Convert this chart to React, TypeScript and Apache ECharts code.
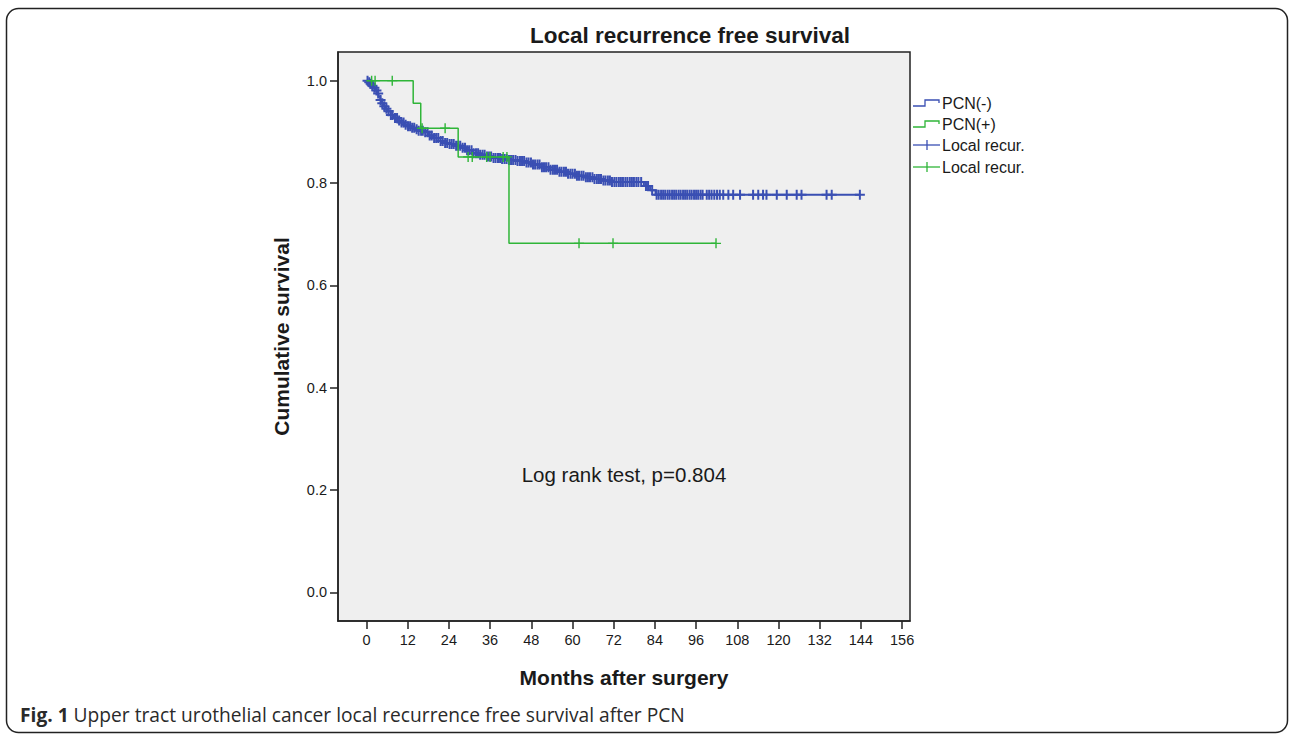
import React, { useEffect, useRef } from "react";
import * as echarts from "echarts";

const FONT = "'Liberation Sans', Arial, sans-serif";
const BLUE = "#3a4fb3";
const GREEN = "#2fb538";
const INK = "#1a1a1a";

const titleText = "Local recurrence free survival";
const xName = "Months after surgery";
const yName = "Cumulative survival";
const noteText = "Log rank test, p=0.804";
const legendNames = ["PCN(-)", "PCN(+)", "Local recur.", "Local recur."];

const xTicks = [0, 12, 24, 36, 48, 60, 72, 84, 96, 108, 120, 132, 144, 156];
const yTicks = [0, 0.2, 0.4, 0.6, 0.8, 1.0];

// PCN(-) : event times (months) and survival after each step
const blueTimes = [
  0, 0.5, 1, 1.5, 2, 2.5, 3, 3.5, 4, 4.5, 5, 5.5, 6, 7, 8, 9, 10, 11, 12, 13,
  14, 15, 16.5, 18, 19.5, 21, 22.5, 24, 26, 27.5, 29, 31, 33, 35, 37, 39, 41,
  43.5, 46, 48.5, 51, 53.5, 56, 58.5, 61, 63.5, 66, 68.5, 71, 80.8, 82.6, 84.2,
];
const blueSurv = [
  1.0, 0.997, 0.994, 0.99, 0.986, 0.981, 0.975, 0.969, 0.962, 0.956, 0.95,
  0.945, 0.94, 0.933, 0.927, 0.922, 0.918, 0.914, 0.911, 0.908, 0.905, 0.902,
  0.899, 0.893, 0.888, 0.882, 0.878, 0.876, 0.873, 0.869, 0.864, 0.858, 0.855,
  0.852, 0.849, 0.847, 0.845, 0.843, 0.84, 0.836, 0.831, 0.826, 0.822, 0.818,
  0.814, 0.811, 0.808, 0.805, 0.802, 0.794, 0.786, 0.777,
];
const blueEnd = 143.7;
const blueCensored = [
  0.3, 0.8, 1.2, 1.7, 2.3, 2.9, 3.4, 4.1, 4.6, 5.2, 5.8, 6.4, 7.1, 7.6, 8.3,
  8.9, 9.5, 10.2, 10.8, 11.4, 12.1, 12.7, 13.3, 13.9, 14.6, 15.2, 15.9, 16.4,
  17.1, 17.8, 18.4, 19.0, 19.7, 20.3, 20.9, 21.6, 22.2, 22.9, 23.5, 24.2, 24.8,
  25.4, 26.1, 26.7, 27.3, 28.0, 28.7, 29.3, 29.9, 30.6, 31.2, 31.9, 32.5, 33.1,
  33.8, 34.4, 35.1, 35.7, 36.3, 37.0, 37.6, 38.3, 38.9, 39.5, 40.2, 40.8, 41.5,
  42.1, 42.7, 43.4, 44.0, 44.7, 45.3, 45.9, 46.6, 47.2, 47.9, 48.5, 49.1, 49.8,
  50.4, 51.1, 51.7, 52.3, 53.0, 53.6, 54.3, 54.9, 55.5, 56.2, 56.8, 57.5, 58.1,
  58.7, 59.4, 60.0, 60.7, 61.3, 61.9, 62.6, 63.2, 63.9, 64.5, 65.1, 65.8, 66.4,
  67.1, 67.7, 68.3, 69.0, 69.6, 70.3, 70.9, 71.5, 72.2, 72.8, 73.5, 74.1, 74.7,
  75.4, 76.0, 76.7, 77.3, 77.9, 78.6, 79.2, 80.0, 81.4, 82.0, 83.2, 84.5, 85.1,
  85.8, 86.4, 87.0, 87.7, 88.3, 89.0, 89.6, 90.2, 90.9, 91.5, 92.2, 92.8, 93.4,
  94.1, 94.7, 95.4, 96.0, 96.6, 97.3, 97.9, 99.1, 99.8, 100.5, 101.3, 102.1,
  102.9, 103.9, 105.4, 106.8, 108.8, 112.6, 114.1, 115.5, 116.5, 119.5, 122.4,
  125.3, 126.7, 134.0, 135.5, 143.7,
];

// PCN(+)
const greenTimes = [0, 13.6, 15.8, 26.7, 41.5];
const greenSurv = [1.0, 0.956, 0.907, 0.851, 0.682];
const greenEnd = 101.8;
const greenCensored = [
  1.5, 2.5, 7.5, 16.2, 22.9, 29.6, 30.8, 35.0, 36.0, 39.8, 40.9, 61.9, 71.8,
  101.8,
];

const survAt = (times: number[], surv: number[], t: number) => {
  let v = surv[0];
  for (let i = 0; i < times.length; i++) if (times[i] <= t) v = surv[i];
  return v;
};

const PLUS_BOLD = "path://M4,0H6V4H10V6H6V10H4V6H0V4H4Z";
const PLUS = "path://M4.3,0H5.7V4.3H10V5.7H5.7V10H4.3V5.7H0V4.3H4.3Z";

export default function App() {
  const ref = useRef<HTMLDivElement>(null);
  useEffect(() => {
    if (!ref.current) return;
    const chart = echarts.init(ref.current, undefined, { renderer: "svg" });

    const blueLine = blueTimes.map((t, i) => [t, blueSurv[i]]);
    blueLine.push([blueEnd, blueSurv[blueSurv.length - 1]]);
    const greenLine = greenTimes.map((t, i) => [t, greenSurv[i]]);
    greenLine.push([greenEnd, greenSurv[greenSurv.length - 1]]);
    const blueCens = blueCensored.map((t) => [t, survAt(blueTimes, blueSurv, t)]);
    const greenCens = greenCensored.map((t) => [t, survAt(greenTimes, greenSurv, t)]);

    const legendY = [103, 124, 145, 167];
    const legendEls: any[] = [];
    [BLUE, GREEN].forEach((c, i) => {
      const y = legendY[i];
      legendEls.push({
        type: "polyline",
        shape: { points: [[913, y + 3], [925, y + 3], [925, y - 3], [939, y - 3], [939, y]] },
        style: { stroke: c, lineWidth: 1.3, fill: "none" },
      });
    });
    [BLUE, GREEN].forEach((c, i) => {
      const y = legendY[i + 2];
      legendEls.push({ type: "line", shape: { x1: 913, y1: y, x2: 940, y2: y }, style: { stroke: c, lineWidth: 1.3 } });
      legendEls.push({ type: "line", shape: { x1: 927, y1: y - 5, x2: 927, y2: y + 5 }, style: { stroke: c, lineWidth: 1.3 } });
    });
    legendNames.forEach((n, i) => {
      legendEls.push({
        type: "text",
        x: 942,
        y: legendY[i],
        style: { text: n, font: `16px ${FONT}`, fill: INK, textVerticalAlign: "middle", textAlign: "left" },
      });
    });

    chart.setOption({
      animation: false,
      backgroundColor: "#ffffff",
      grid: {
        left: 338,
        top: 52,
        width: 572,
        height: 569,
        show: true,
        backgroundColor: "#efefef",
        borderColor: "#222",
        borderWidth: 1.5,
      },
      xAxis: {
        type: "value",
        min: -8.3,
        max: 158.3,
        name: xName,
        nameLocation: "middle",
        nameGap: 46,
        nameTextStyle: { fontFamily: FONT, fontWeight: "bold", fontSize: 21, color: INK },
        axisLine: { show: true, onZero: false, lineStyle: { color: "#222", width: 1.5 } },
        axisTick: { show: true, length: 8, customValues: xTicks, lineStyle: { color: "#222", width: 1.5 } },
        axisLabel: { customValues: xTicks, margin: 11, fontFamily: FONT, fontSize: 14.5, color: INK },
        splitLine: { show: false },
      },
      yAxis: {
        type: "value",
        min: -0.056,
        max: 1.056,
        name: yName,
        nameLocation: "middle",
        nameGap: 46,
        nameTextStyle: { fontFamily: FONT, fontWeight: "bold", fontSize: 21, color: INK },
        axisLine: { show: true, onZero: false, lineStyle: { color: "#222", width: 1.5 } },
        axisTick: { show: true, length: 8, customValues: yTicks, lineStyle: { color: "#222", width: 1.5 } },
        axisLabel: {
          customValues: yTicks,
          margin: 11,
          fontFamily: FONT,
          fontSize: 14.5,
          color: INK,
          formatter: (v: number) => v.toFixed(1),
        },
        splitLine: { show: false },
      },
      series: [
        {
          name: "PCN(-)",
          type: "line",
          step: "end",
          data: blueLine,
          showSymbol: false,
          symbol: "none",
          lineStyle: { color: BLUE, width: 2 },
          z: 2,
        },
        {
          name: "Local recur. (-)",
          type: "scatter",
          data: blueCens,
          symbol: PLUS_BOLD,
          symbolSize: 10,
          itemStyle: { color: BLUE, opacity: 1 },
          z: 3,
        },
        {
          name: "PCN(+)",
          type: "line",
          step: "end",
          data: greenLine,
          showSymbol: false,
          symbol: "none",
          lineStyle: { color: GREEN, width: 1.5 },
          z: 4,
        },
        {
          name: "Local recur. (+)",
          type: "scatter",
          data: greenCens,
          symbol: PLUS,
          symbolSize: 10,
          itemStyle: { color: GREEN, opacity: 1 },
          z: 5,
        },
      ],
      graphic: [
        {
          type: "rect",
          shape: { x: 6.5, y: 8.5, width: 1281, height: 724, r: 12 },
          style: { fill: "none", stroke: "#222", lineWidth: 1.5 },
          z: -10,
        },
        {
          type: "text",
          x: 690,
          y: 35,
          style: { text: titleText, font: `bold 22.5px ${FONT}`, fill: INK, textAlign: "center", textVerticalAlign: "middle" },
        },
        {
          type: "text",
          x: 624,
          y: 474,
          style: { text: noteText, font: `20.5px ${FONT}`, fill: INK, textAlign: "center", textVerticalAlign: "middle" },
          z: 10,
        },
        {
          type: "text",
          x: 20,
          y: 714,
          style: {
            text: "{b|Fig. 1} Upper tract urothelial cancer local recurrence free survival after PCN",
            font: `19.2px 'Open Sans', sans-serif`,
            fill: "#2a2a2a",
            textVerticalAlign: "middle",
            rich: {
              b: { fontWeight: "bold", fontFamily: "'Open Sans', sans-serif", fontSize: 19.2, fill: "#2a2a2a" },
            },
          },
        },
        ...legendEls,
      ],
    });
    return () => chart.dispose();
  }, []);
  return (
    <div
      ref={ref}
      style={{ position: "fixed", left: 0, top: 0, width: 1290, height: 734, background: "#fff" }}
    />
  );
}
